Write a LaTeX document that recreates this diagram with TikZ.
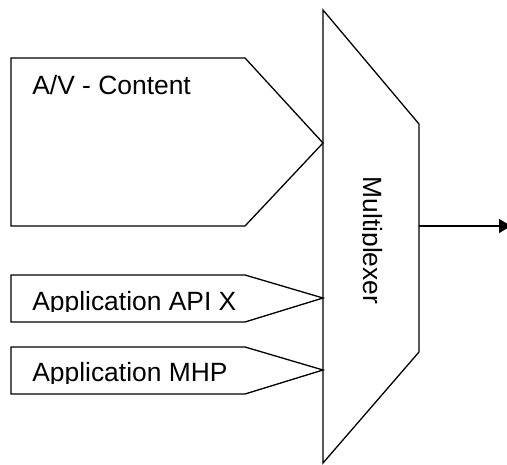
\documentclass[tikz,border=0pt]{standalone}
\usepackage{fontspec}
\setmainfont{Liberation Sans}
\usetikzlibrary{arrows.meta}
\begin{document}
\begin{tikzpicture}[x=1bp,y=-1bp,line width=1.3bp,
  label/.style={inner sep=0pt,font=\fontsize{26.4bp}{30bp}\selectfont},
  block/.style={draw=black,line join=miter}]
\useasboundingbox (0,0) rectangle (507,465);

% multiplexer trapezoid
\coordinate (mtl) at (323,10);
\coordinate (mtr) at (419,124);
\coordinate (mbr) at (419,352);
\coordinate (mbl) at (323,463);
\draw[block] (mtl) -- (mtr) -- (mbr) -- (mbl) -- cycle;
\begin{scope}
  \clip (362,10) rectangle (419,463);
  \node[label,rotate=-90,anchor=base west] (mux) at (363.5,176) {Multiplexer};
\end{scope}

% input tips on the multiplexer's left edge
\coordinate (avtip) at (323,143);
\coordinate (apitip) at (323,298);
\coordinate (mhptip) at (323,370);

% A/V content
\draw[block] (11,58) -- (245,58) -- (avtip) -- (245,226) -- (11,226) -- cycle;
\node[label,anchor=base west] (av) at (31.7,95) {A/V - Content};

% application API X
\draw[block] (11,275) -- (245,275) -- (apitip) -- (245,322) -- (11,322) -- cycle;
\begin{scope}
  \clip (11,275) rectangle (245,311.5);
  \node[label,anchor=base west] (api) at (31.7,310) {Application API X};
\end{scope}

% application MHP
\draw[block] (11,347) -- (245,347) -- (mhptip) -- (245,394) -- (11,394) -- cycle;
\begin{scope}
  \clip (11,347) rectangle (245,383);
  \node[label,anchor=base west] (mhp) at (31.7,381.5) {Application MHP};
\end{scope}

% output
\coordinate (out) at (419,226);
\coordinate (outend) at (511,226);
\draw[-{Triangle[length=12bp,width=14bp]}] (out) -- (outend);
\end{tikzpicture}
\end{document}
